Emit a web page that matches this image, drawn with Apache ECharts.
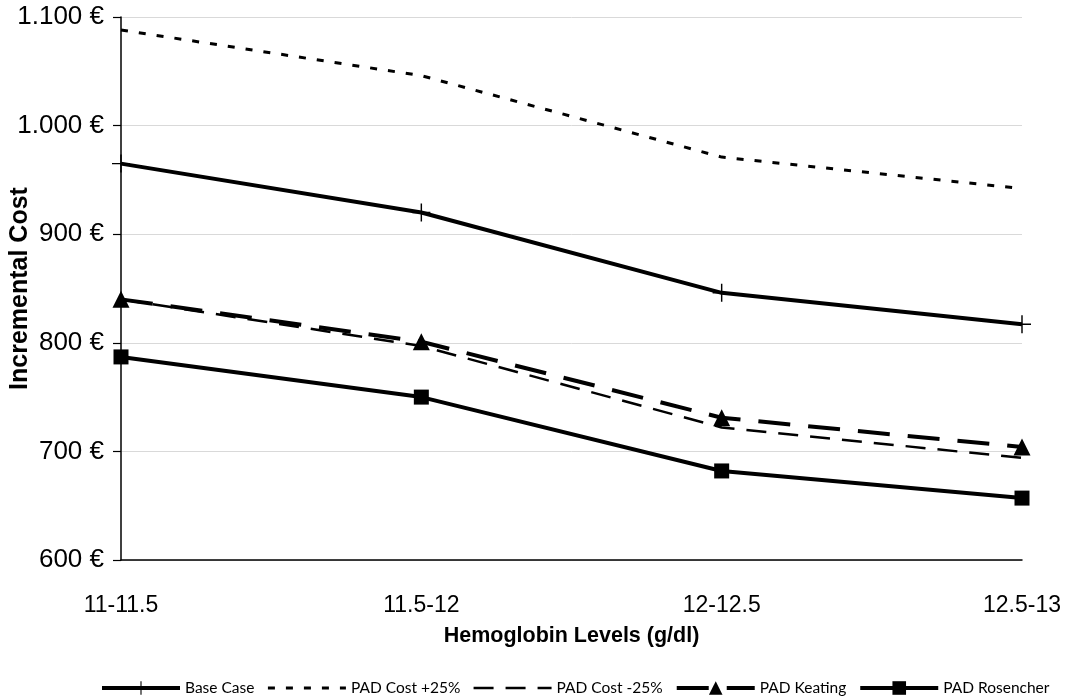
<!DOCTYPE html>
<html>
<head>
<meta charset="utf-8">
<script src="https://cdn.jsdelivr.net/npm/echarts@6/dist/echarts.min.js"></script>
<style>
html,body{margin:0;padding:0;background:#fff;}
#chart{width:1069px;height:698px;}
</style>
</head>
<body>
<div id="chart"></div>
<script>
const categories = ['11-11.5', '11.5-12', '12-12.5', '12.5-13'];
const baseCase = [965, 920, 846, 817];
const padCostPlus25 = [1088, 1046, 971, 942];
const padCostMinus25 = [840, 797, 722, 694];
const padKeating = [840, 801, 731, 704];
const padRosencher = [787, 750, 682, 657];
const yTicks = { min: 600, max: 1100, interval: 100 };

const plusPath = 'path://M-0.8,-10 H0.8 V-0.8 H10 V0.8 H0.8 V10 H-0.8 V0.8 H-10 V-0.8 H-0.8 Z';

function fmtEuro(v) {
  let s;
  if (v >= 1000) {
    s = Math.floor(v / 1000) + '.' + String(v % 1000).padStart(3, '0');
  } else {
    s = String(v);
  }
  return s + ' €';
}

const chart = echarts.init(document.getElementById('chart'), null, { renderer: 'canvas' });

const option = {
  backgroundColor: '#ffffff',
  animation: false,
  grid: { left: 121, right: 47, top: 17, bottom: 138, containLabel: false, outerBoundsMode: 'none' },
  legend: {
    left: 100,
    bottom: 2,
    padding: 0,
    itemWidth: 78,
    itemHeight: 17,
    itemGap: 12,
    lineStyle: { width: 'inherit' },
    textStyle: { fontFamily: 'Lato, Liberation Sans, sans-serif', fontSize: 15.5, color: '#000' },
    data: [
      { name: 'Base Case' },
      { name: 'PAD Cost +25%', itemStyle: { opacity: 0 } },
      { name: 'PAD Cost -25%', itemStyle: { opacity: 0 } },
      { name: 'PAD Keating' },
      { name: 'PAD Rosencher' }
    ]
  },
  xAxis: {
    type: 'category',
    data: categories,
    boundaryGap: false,
    axisLine: { lineStyle: { color: '#000', width: 1.5 } },
    axisTick: { show: false },
    axisLabel: { margin: 34, fontFamily: 'Liberation Sans, Arial, sans-serif', fontSize: 23, color: '#000' },
    name: 'Hemoglobin Levels (g/dl)',
    nameLocation: 'middle',
    nameGap: 65,
    nameTextStyle: { fontFamily: 'Liberation Sans, Arial, sans-serif', fontSize: 21.5, fontWeight: 'bold', color: '#000' }
  },
  yAxis: {
    type: 'value',
    min: yTicks.min,
    max: yTicks.max,
    interval: yTicks.interval,
    axisLine: { show: true, lineStyle: { color: '#000', width: 1.5 } },
    axisTick: { show: true, length: 8, lineStyle: { color: '#000', width: 1.2 } },
    splitLine: { show: true, lineStyle: { color: '#d9d9d9', width: 1 } },
    axisLabel: { margin: 17, fontFamily: 'Liberation Sans, Arial, sans-serif', fontSize: 26, color: '#000', formatter: fmtEuro },
    name: 'Incremental Cost',
    nameLocation: 'middle',
    nameGap: 88,
    nameMoveOverlap: false,
    nameTextStyle: { fontFamily: 'Liberation Sans, Arial, sans-serif', fontSize: 25, fontWeight: 'bold', color: '#000' }
  },
  series: [
    {
      name: 'Base Case', type: 'line', data: baseCase,
      symbol: plusPath, symbolSize: 18, showAllSymbol: true,
      itemStyle: { color: '#000' },
      lineStyle: { color: '#000', width: 4 }
    },
    {
      name: 'PAD Cost +25%', type: 'line', data: padCostPlus25,
      symbol: 'none',
      itemStyle: { color: '#000' },
      lineStyle: { color: '#000', width: 3, type: [7, 11] }
    },
    {
      name: 'PAD Cost -25%', type: 'line', data: padCostMinus25,
      symbol: 'none',
      itemStyle: { color: '#000' },
      lineStyle: { color: '#000', width: 2.5, type: [20, 12] }
    },
    {
      name: 'PAD Keating', type: 'line', data: padKeating,
      symbol: 'triangle', symbolSize: 17,
      itemStyle: { color: '#000' },
      lineStyle: { color: '#000', width: 4, type: [32, 18] }
    },
    {
      name: 'PAD Rosencher', type: 'line', data: padRosencher,
      symbol: 'rect', symbolSize: 15,
      itemStyle: { color: '#000' },
      lineStyle: { color: '#000', width: 4 }
    }
  ]
};

chart.setOption(option);
</script>
</body>
</html>
